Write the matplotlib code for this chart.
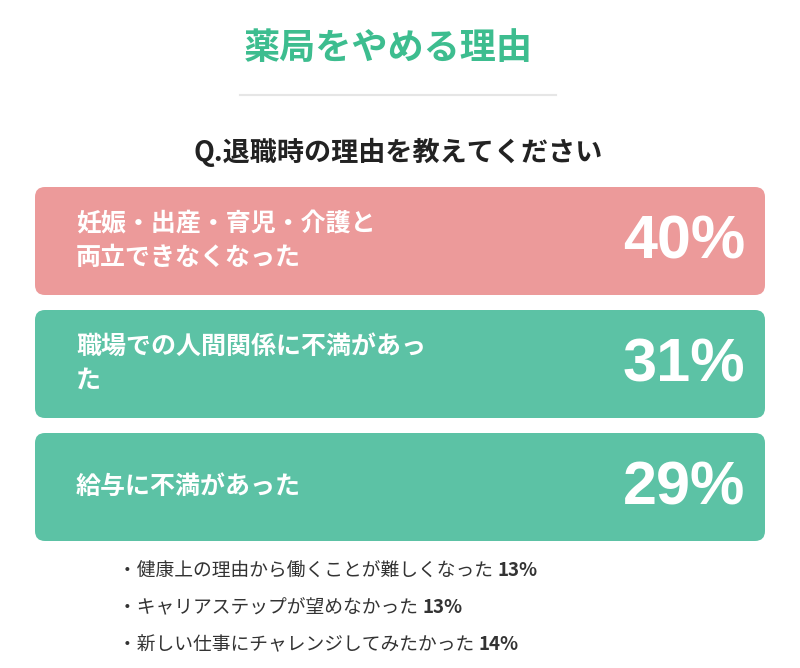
import matplotlib
matplotlib.use("Agg")
import matplotlib.pyplot as plt
from matplotlib.patches import FancyBboxPatch

title = "薬局をやめる理由"
question = "Q.退職時の理由を教えてください"
categories = ["妊娠・出産・育児・介護と\n両立できなくなった", "職場での人間関係に不満があっ\nた", "給与に不満があった"]
values = [40, 31, 29]
others = ["健康上の理由から働くことが難しくなった", "キャリアステップが望めなかった", "新しい仕事にチャレンジしてみたかった"]
other_values = [13, 13, 14]
box_colors = ["#ec9a9a", "#5cc2a5", "#5cc2a5"]

plt.rcParams["font.family"] = "Noto Sans CJK JP"
fig = plt.figure(figsize=(8, 6.68), dpi=100)
ax = fig.add_axes([0, 0, 1, 1])
ax.set_xlim(0, 800); ax.set_ylim(668, 0); ax.axis("off")

ax.text(388, 48, title, ha="center", va="center", fontsize=26, fontweight="bold", color="#3dbd8f")
ax.plot([240, 556], [95, 95], color="#e6e6e6", lw=1.5)
ax.text(398, 152, question, ha="center", va="center", fontsize=19.5, fontweight="bold", color="#222222")

top0, h, gap = 187, 108, 123
for i, (c, v) in enumerate(zip(categories, values)):
    y = top0 + i * gap
    ax.add_patch(FancyBboxPatch((35, y), 730, h, boxstyle="round,pad=0,rounding_size=10",
                                fc=box_colors[i], ec="none"))
    ax.text(76, y + h / 2, c, ha="left", va="center", fontsize=18, fontweight="bold",
            color="white", linespacing=1.5)
    ax.text(745, y + h / 2 + 2, f"{v}%", ha="right", va="center", fontsize=44,
            fontweight="bold", color="white", family="Liberation Sans")

fig.canvas.draw()
r = fig.canvas.get_renderer()
for i, (o, v) in enumerate(zip(others, other_values)):
    yy = 570 + i * 37.5
    tt = ax.text(118, yy, f"・{o} ", ha="left", va="center", fontsize=13.5, color="#333333")
    w = tt.get_window_extent(r).width
    ax.text(118 + w, yy, f"{v}%", ha="left", va="center", fontsize=13.5,
            fontweight="bold", color="#333333")

fig.savefig("out.png", dpi=100)
